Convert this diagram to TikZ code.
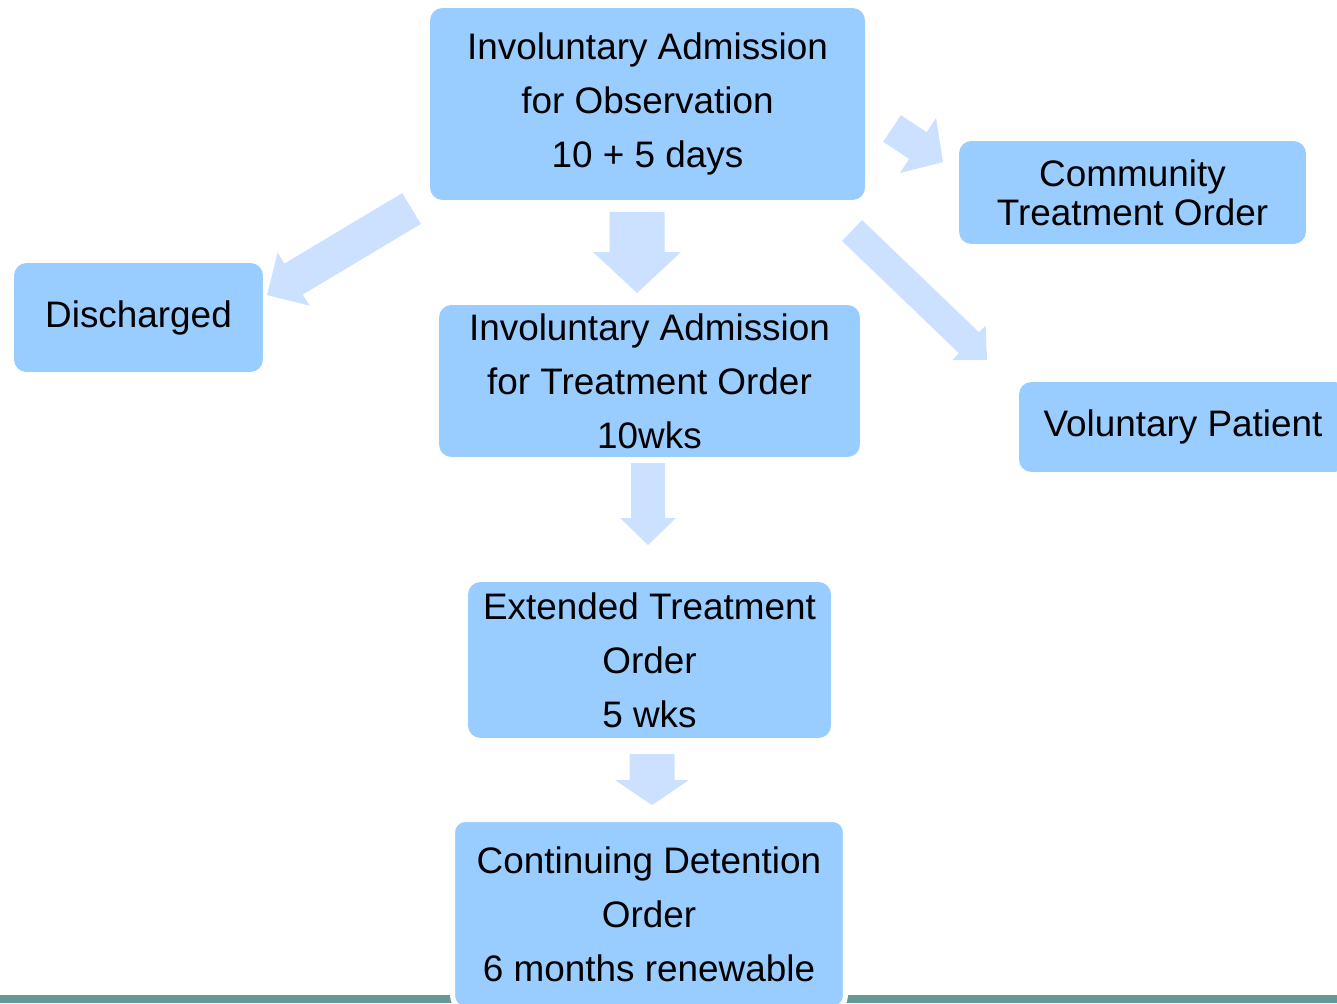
\documentclass[tikz,border=0pt]{standalone}
\usepackage{fontspec}
\setmainfont{Liberation Sans}
\usepackage{xcolor}
\definecolor{BoxBlue}{RGB}{153,204,255}
\definecolor{ArrowBlue}{RGB}{204,224,255}
\definecolor{BarTeal}{RGB}{102,153,150}
\usetikzlibrary{calc}
% tail, tip, shaft half width, head half width, head length
\newcommand{\blockarrow}[5]{%
    \path coordinate (hb) at ($(#2)!#5!(#1)$);
    \fill[ArrowBlue] ($(#1)!#3!90:(#2)$) -- ($(hb)!#3!90:(#2)$) -- ($(hb)!#4!90:(#2)$)
        -- (#2) -- ($(hb)!#4!-90:(#2)$) -- ($(hb)!#3!-90:(#2)$) -- ($(#1)!#3!-90:(#2)$) -- cycle;}

\begin{document}
\begin{tikzpicture}[x=0.02cm, y=-0.02cm, font=\fontsize{21}{30.7}\selectfont]
    \tikzset{
        stage/.style={rectangle, rounded corners=0.25cm, fill=BoxBlue,
            inner sep=0pt, align=center},
    }
    \clip (0,0) rectangle (1337,1003);
    \fill[BarTeal] (0,995) rectangle (1337,1003);
    \node[stage, minimum width=8.7cm, minimum height=3.84cm] (obs) at (647.5,104)
        {Involuntary Admission\\for Observation\\10 + 5 days};
    \node[stage, minimum width=6.94cm, minimum height=2.06cm,
        font=\fontsize{21}{22.2}\selectfont] (cto) at (1132.5,192.5)
        {Community\\Treatment Order};
    \node[stage, minimum width=4.98cm, minimum height=2.18cm] (disch) at (138.5,317.5)
        {Discharged};
    \node[stage, minimum width=8.42cm, minimum height=3.04cm] (trt) at (649.5,381)
        {Involuntary Admission\\for Treatment Order\\10wks};
    \node[stage, minimum width=6.56cm, minimum height=1.8cm] (vol) at (1183,427)
        {Voluntary Patient};
    \node[stage, minimum width=7.26cm, minimum height=3.12cm] (ext) at (649.5,660)
        {Extended Treatment\\Order\\5 wks};
    \node[stage, draw=white, line width=0.1cm, minimum width=7.86cm,
        minimum height=3.78cm] (cdo) at (649,914)
        {Continuing Detention\\Order\\6 months renewable};
    % arrow ends
    \coordinate (a1s) at (637,212);   \coordinate (a1e) at (637,293);
    \coordinate (a2s) at (648,463);   \coordinate (a2e) at (648,545);
    \coordinate (a3s) at (652,754);   \coordinate (a3e) at (652,805);
    \coordinate (a4s) at (411.5,208.5); \coordinate (a4e) at (267,295);
    \coordinate (a5s) at (892,128.5); \coordinate (a5e) at (943,162);
    \coordinate (a6s) at (852,230.5); \coordinate (a6e) at (987,360);
    \blockarrow{a1s}{a1e}{0.55cm}{0.88cm}{0.82cm}
    \blockarrow{a2s}{a2e}{0.34cm}{0.56cm}{0.54cm}
    \blockarrow{a3s}{a3e}{0.45cm}{0.74cm}{0.5cm}
    \blockarrow{a4s}{a4e}{0.36cm}{0.62cm}{0.62cm}
    \blockarrow{a5s}{a5e}{0.32cm}{0.66cm}{0.6cm}
    \blockarrow{a6s}{a6e}{0.29cm}{0.48cm}{0.5cm}
\end{tikzpicture}
\end{document}
